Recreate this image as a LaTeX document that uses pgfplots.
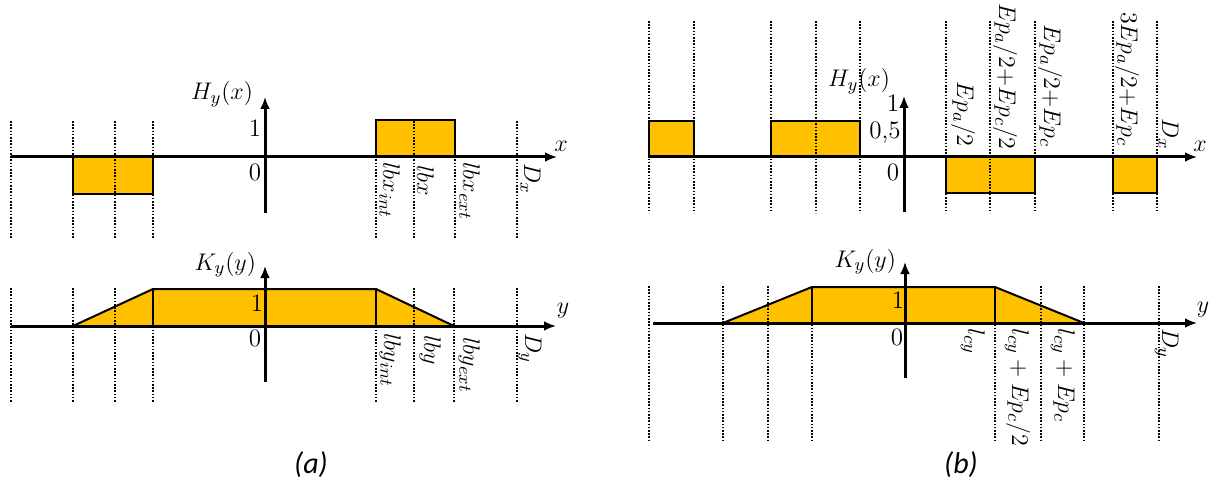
\documentclass[border=0pt]{standalone}
\usepackage{pgfplots}
\pgfplotsset{compat=1.18}
\usepackage{fontspec}
\newfontfamily\capfont{Carlito}
\usetikzlibrary{arrows.meta}
\definecolor{gold}{HTML}{FFC000}

\begin{document}
\begin{tikzpicture}[font=\fontsize{12.5}{14}\selectfont,
    box/.style={fill=gold, draw=black, line width=1pt, line join=miter},
    dotl/.style={black, line width=0.7pt, dash pattern=on 0.8pt off 0.8pt},
    axl/.style={black, line width=1.5pt, -{Latex[length=6pt,width=5pt]}},
    vl/.style={rotate=-90, inner sep=0pt}]
\begin{axis}[
    width=608pt, height=246pt, scale only axis,
    xmin=0, xmax=1216, ymin=0, ymax=492, y dir=reverse,
    hide axis, clip=false,
]
\addplot[draw=none] coordinates {(0,0) (1216,492)};

% (a) top : H_y(x)
\addplot[box] coordinates {(73,157) (153,157) (153,194) (73,194)} -- cycle;
\addplot[box] coordinates {(376,157) (376,120) (455,120) (455,157)} -- cycle;
\pgfplotsinvokeforeach{11,73,115,153,376,414,455,517}{
  \addplot[dotl] coordinates {(#1,121) (#1,238)};
}
\addplot[axl] coordinates {(11,157) (557,157)};
\addplot[axl] coordinates {(265,213) (265,97)};
\node[anchor=base east] at (axis cs:260,100) {$H_y(x)$};
\node at (axis cs:255,128) {1};
\node at (axis cs:255,172) {0};
\node at (axis cs:561,146) {$x$};
\node[vl, anchor=base west] at (axis cs:383,162) {$lbx_{int}$};
\node[vl, anchor=base west] at (axis cs:417,165) {$lbx$};
\node[vl, anchor=base west] at (axis cs:463,162) {$lbx_{ext}$};
\node[vl, anchor=base west] at (axis cs:524,163) {$D_x$};

% (a) bottom : K_y(y)
\addplot[box] coordinates {(73,326) (153,289) (376,289) (454,326)} -- cycle;
\addplot[black, line width=1pt] coordinates {(153,289) (153,326)};
\addplot[black, line width=1pt] coordinates {(376,289) (376,326)};
\pgfplotsinvokeforeach{11,73,115,153,376,414,454,517}{
  \addplot[dotl] coordinates {(#1,288) (#1,403)};
}
\addplot[axl] coordinates {(11,326) (556,326)};
\addplot[axl] coordinates {(265,382) (265,266)};
\node[anchor=base east] at (axis cs:263,270) {$K_y(y)$};
\node at (axis cs:257,303) {1};
\node at (axis cs:255,338) {0};
\node at (axis cs:563,311) {$y$};
\node[vl, anchor=base west] at (axis cs:384,333) {$lby_{int}$};
\node[vl, anchor=base west] at (axis cs:424,335) {$lby$};
\node[vl, anchor=base west] at (axis cs:463,337) {$lby_{ext}$};
\node[vl, anchor=base west] at (axis cs:525,333) {$D_y$};

% (b) top : H_y(x)
\addplot[box] coordinates {(649,157) (649,121) (694,121) (694,157)} -- cycle;
\addplot[box] coordinates {(771,157) (771,121) (860,121) (860,157)} -- cycle;
\addplot[box] coordinates {(946,157) (1035,157) (1035,193) (946,193)} -- cycle;
\addplot[box] coordinates {(1113,157) (1157,157) (1157,193) (1113,193)} -- cycle;
\pgfplotsinvokeforeach{649,694,771,816,860,946,990,1035,1113,1157}{
  \addplot[dotl] coordinates {(#1,21) (#1,213)};
}
\addplot[axl] coordinates {(649,157) (1197,157)};
\addplot[axl] coordinates {(904,212) (904,96)};
\node[anchor=base east] at (axis cs:897,87) {$H_y(x)$};
\node at (axis cs:893,103) {1};
\node at (axis cs:885,133) {0,5};
\node at (axis cs:893,172) {0};
\node at (axis cs:1200,146) {$x$};
\node[vl, anchor=base east] at (axis cs:957,147) {$Ep_a/2$};
\node[vl, anchor=base east] at (axis cs:999,150) {$Ep_a/2{+}Ep_c/2$};
\node[vl, anchor=base east] at (axis cs:1044,148) {$Ep_a/2{+}Ep_c$};
\node[vl, anchor=base east] at (axis cs:1121,147) {$3Ep_a/2{+}Ep_c$};
\node[vl, anchor=base east] at (axis cs:1162,150) {$D_x$};

% (b) bottom : K_y(y)
\addplot[box] coordinates {(723,323) (812,287) (995,287) (1084,323)} -- cycle;
\addplot[black, line width=1pt] coordinates {(812,287) (812,323)};
\addplot[black, line width=1pt] coordinates {(995,287) (995,323)};
\pgfplotsinvokeforeach{649,723,768,812,995,1041,1084,1159}{
  \addplot[dotl] coordinates {(#1,286) (#1,440)};
}
\addplot[axl] coordinates {(653,323) (1197,323)};
\addplot[axl] coordinates {(905,378) (905,262)};
\node[anchor=base east] at (axis cs:903,267) {$K_y(y)$};
\node at (axis cs:898,300) {1};
\node at (axis cs:897,337) {0};
\node at (axis cs:1203,310) {$y$};
\node[vl, anchor=base west] at (axis cs:968,328) {$l_{cy}$};
\node[vl, anchor=base west] at (axis cs:1012,328) {$l_{cy}+Ep_c/2$};
\node[vl, anchor=base west] at (axis cs:1058,328) {$l_{cy}+Ep_c$};
\node[vl, anchor=base west] at (axis cs:1162,328) {$D_y$};

% captions
\node at (axis cs:311,465) {\capfont\itshape\fontsize{15}{17}\selectfont (a)};
\node at (axis cs:961,465) {\capfont\itshape\fontsize{15}{17}\selectfont (b)};
\end{axis}
\end{tikzpicture}
\end{document}
